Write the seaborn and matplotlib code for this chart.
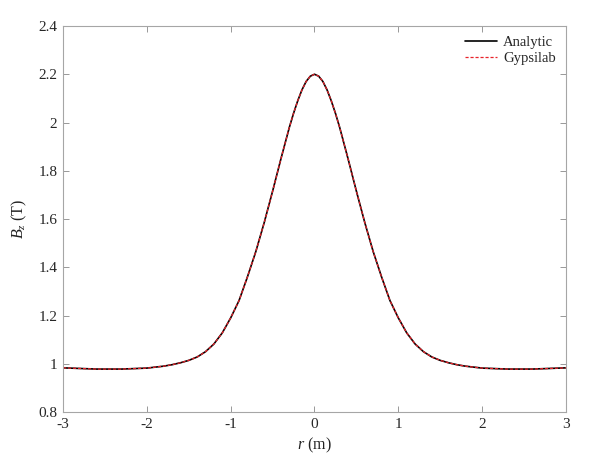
import numpy as np
import pandas as pd
import seaborn as sns
import matplotlib.pyplot as plt

# values (curve is symmetric about r = 0)
r_half = [0.0, 0.05, 0.1, 0.15, 0.2, 0.25, 0.3, 0.4, 0.5, 0.6, 0.7, 0.8, 0.9, 1.0,
          1.1, 1.2, 1.3, 1.4, 1.5, 1.6, 1.7, 1.8, 2.0, 2.3, 2.6, 3.0]
bz_half = [2.200, 2.192, 2.170, 2.135, 2.090, 2.038, 1.980, 1.850, 1.715, 1.585, 1.465, 1.360, 1.262, 1.190,
           1.128, 1.082, 1.050, 1.028, 1.014, 1.004, 0.996, 0.990, 0.982, 0.978, 0.978, 0.983]

r_vals = [-v for v in r_half[:0:-1]] + r_half
analytic = bz_half[:0:-1] + bz_half
gypsilab = bz_half[:0:-1] + bz_half

x_ticks = [-3, -2, -1, 0, 1, 2, 3]
y_ticks = [0.8, 1, 1.2, 1.4, 1.6, 1.8, 2, 2.2, 2.4]

df = pd.DataFrame({"r": r_vals, "Analytic": analytic, "Gypsilab": gypsilab})

sns.set_style("white")
plt.rcParams['font.family'] = ['Liberation Serif', 'DejaVu Serif']
plt.rcParams['mathtext.fontset'] = 'custom'
plt.rcParams['mathtext.rm'] = 'Liberation Serif'
plt.rcParams['mathtext.it'] = 'Liberation Serif:italic'
plt.rcParams['axes.unicode_minus'] = False

fig = plt.figure(figsize=(5.9, 4.72), dpi=100)
ax = fig.add_subplot(111)
fig.subplots_adjust(left=0.1068, right=0.9593, top=0.9449, bottom=0.1271)

sns.lineplot(data=df, x="r", y="Analytic", color="black", linewidth=1.2,
             label="Analytic", ax=ax)
sns.lineplot(data=df, x="r", y="Gypsilab", color="#e8232a", linewidth=0.9,
             linestyle=(0, (2.5, 1.5)), label="Gypsilab", ax=ax)

ax.set_xlim(-3, 3)
ax.set_ylim(0.8, 2.4)
ax.set_xticks(x_ticks)
ax.set_xticklabels([str(t) for t in x_ticks])
ax.set_yticks(y_ticks)
ax.set_yticklabels(["0.8", "1", "1.2", "1.4", "1.6", "1.8", "2", "2.2", "2.4"])

ax.set_xlabel("$r$ (m)", fontsize=11.5, color="#222222")
ax.set_ylabel("$B_z$ (T)", fontsize=11.5, color="#222222", labelpad=7)

ax.tick_params(direction="in", length=4, width=0.6, color="#888888",
               labelsize=11, labelcolor="#262626", top=True, right=True,
               bottom=True, left=True, pad=4)
for s in ax.spines.values():
    s.set_color("#a6a6a6")
    s.set_linewidth(0.8)

leg = ax.legend(loc="upper right", frameon=False, fontsize=10.5,
                handlelength=2.2, handletextpad=0.4, borderaxespad=0.3,
                labelspacing=0.15)

plt.savefig("out.png", dpi=100)
plt.close()
print("saved out.png")
